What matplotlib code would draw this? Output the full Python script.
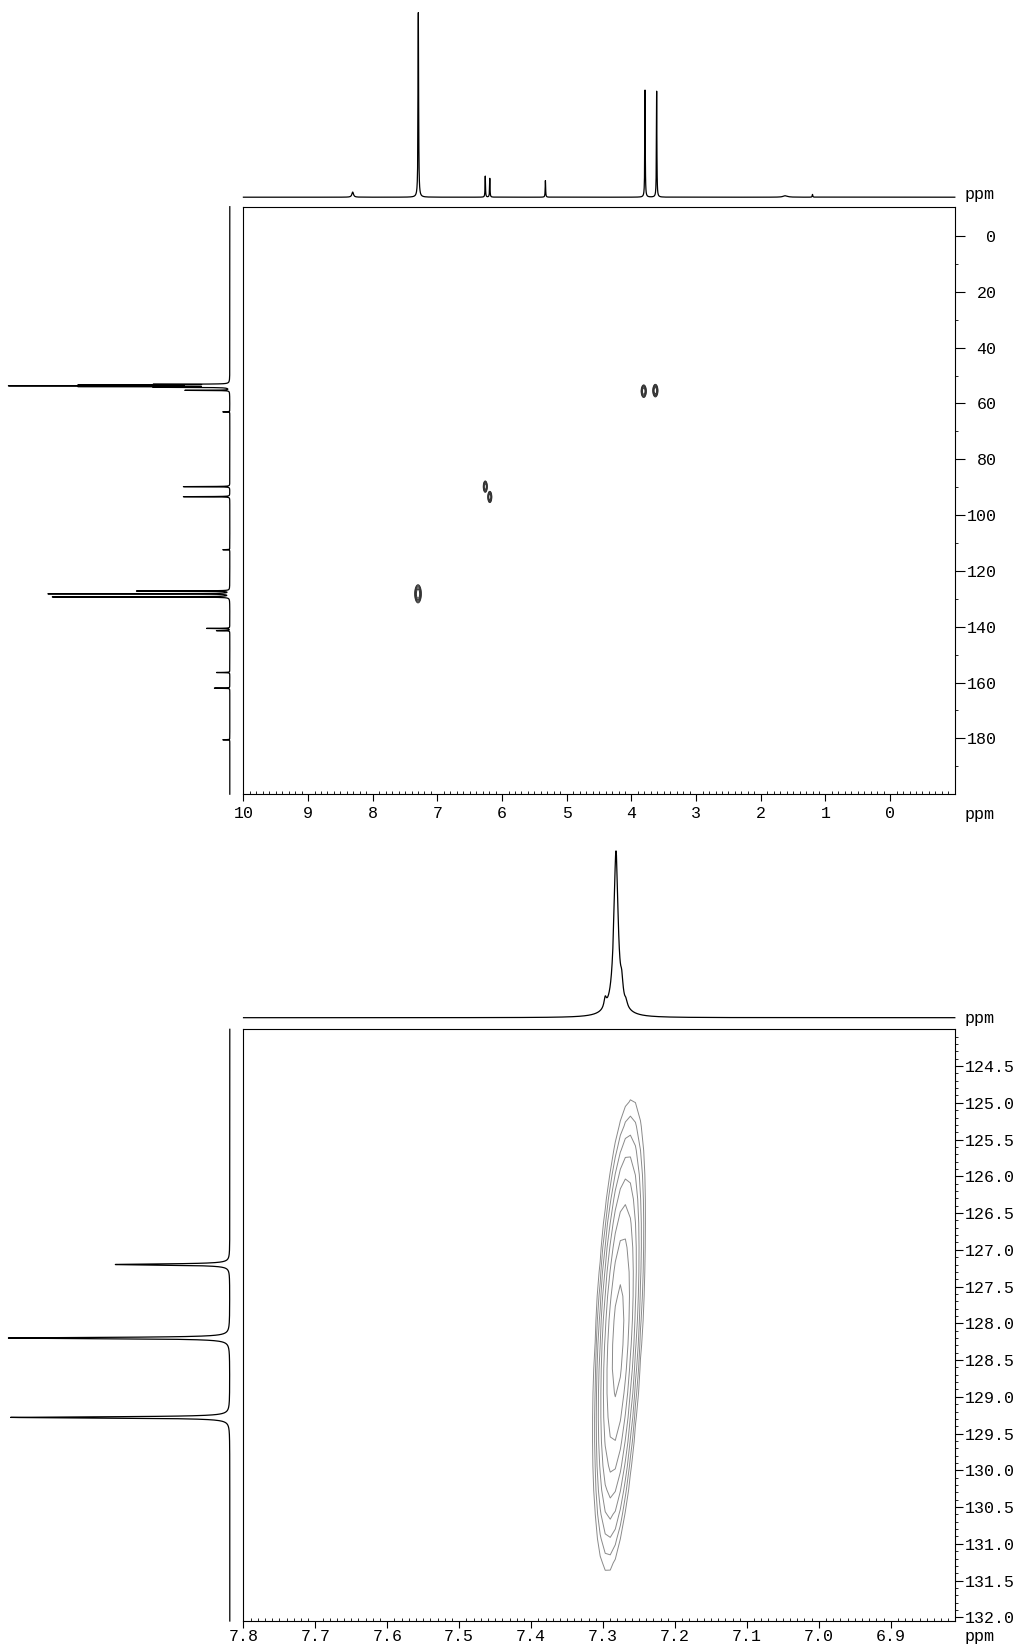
import numpy as np
import matplotlib
matplotlib.use("Agg")
import matplotlib.pyplot as plt
from matplotlib.ticker import FixedLocator

plt.rcParams['font.family'] = ['Liberation Mono', 'DejaVu Sans Mono']

W, H, DPI = 1023, 1646, 100

# ---------------- data ----------------
# Overview 1H projection (F2): position (ppm), relative height, line width (ppm)
h1_ppm    = [8.31, 7.295, 6.26, 6.19, 5.33, 3.79, 3.61, 1.62, 1.20]
h1_height = [0.028, 1.00, 0.114, 0.102, 0.090, 0.580, 0.574, 0.008, 0.015]
h1_width  = [0.030, 0.010, 0.008, 0.008, 0.008, 0.008, 0.008, 0.080, 0.010]

# Overview 13C projection (F1)
c13_ppm    = [53.13, 53.40, 53.67, 53.94, 54.21, 55.30, 63.0, 89.8, 93.4, 112.4,
              127.2, 128.2, 129.3, 140.6, 141.4, 156.4, 162.0, 180.5]
c13_height = [0.33, 0.67, 1.00, 0.67, 0.33, 0.21, 0.033, 0.22, 0.22, 0.033,
              0.44, 0.86, 0.84, 0.11, 0.063, 0.063, 0.073, 0.033]
c13_width  = [0.10] * 18

# Overview cross peaks (1H, 13C) with widths
xp_h1       = [3.81, 3.63, 6.26, 6.19, 7.30]
xp_c13      = [55.6, 55.4, 89.8, 93.5, 128.2]
xp_h1_sig   = [0.018, 0.018, 0.014, 0.014, 0.023]
xp_c13_sig  = [1.00, 1.00, 0.90, 0.90, 1.45]
xp_amp      = [1.0, 1.0, 1.0, 1.0, 1.0]

# Expansion 1H projection
zh_ppm    = [7.282, 7.297, 7.274, 7.268, 7.282]
zh_height = [1.00, 0.06, 0.10, 0.03, 0.05]
zh_width  = [0.007, 0.004, 0.004, 0.004, 0.030]

# Expansion 13C projection
zc_ppm    = [127.20, 128.20, 129.28]
zc_height = [0.517, 1.00, 0.99]
zc_width  = [0.02, 0.02, 0.02]

# Expansion cross peak: main component + weak shoulder (1H, 13C, amplitude)
zxp_h1    = [7.281, 7.264]
zxp_c13   = [128.35, 127.20]
zxp_amp   = [1.00, 0.20]
zxp_h1_sig, zxp_c13_sig, zxp_tilt = 0.0138, 1.37, 0.0043

# axis ranges
top_x = (10.0, -1.0)
top_y = (200.0, -10.5)
bot_x = (7.8, 6.811)
bot_y = (132.05, 124.0)


def lorentz(x, pos, hei, wid):
    y = np.zeros_like(x)
    for p, h, w in zip(pos, hei, wid):
        y += h / (1.0 + ((x - p) / (w / 2.0)) ** 2)
    return y


def normed(y):
    return y / y.max()


fig = plt.figure(figsize=(W / DPI, H / DPI), dpi=DPI)


def ax_px(left, top, right, bottom):
    return fig.add_axes([left / W, 1 - bottom / H, (right - left) / W, (bottom - top) / H])


TXT = dict(fontsize=12, color='black')


def style_main(ax, xmaj, xmin, ymaj, ymin, ylab_right_align, xpad):
    for s in ax.spines.values():
        s.set_linewidth(0.8)
    ax.xaxis.set_major_locator(FixedLocator(xmaj))
    ax.xaxis.set_minor_locator(FixedLocator(xmin))
    ax.yaxis.set_major_locator(FixedLocator(ymaj))
    ax.yaxis.set_minor_locator(FixedLocator(ymin))
    ax.yaxis.tick_right()
    ax.tick_params(axis='x', which='major', direction='out', length=5, width=0.8,
                   pad=xpad, labelsize=12)
    ax.tick_params(axis='x', which='minor', direction='in', length=2, width=0.6)
    if ylab_right_align:
        ax.tick_params(axis='y', which='major', direction='out', length=7, width=0.8,
                       pad=23, labelsize=12)
    else:
        ax.tick_params(axis='y', which='major', direction='out', length=6, width=0.8,
                       pad=1.5, labelsize=12)
    ax.tick_params(axis='y', which='minor', direction='out', length=2.5, width=0.6)


# ================= TOP PANEL =================
L, R = 243.4, 954.8
ax1 = ax_px(L, 206.7, R, 794.2)
ax1.set_xlim(*top_x)
ax1.set_ylim(*top_y)
style_main(ax1, list(range(0, 11)), np.round(np.arange(-0.9, 10.0, 0.1), 2),
           list(range(0, 181, 20)), list(range(10, 200, 20)), True, 3.5)
ax1.set_xticklabels([str(v) for v in range(0, 11)])
ax1.set_yticklabels([str(v) for v in range(0, 181, 20)])
for lbl in ax1.get_yticklabels():
    lbl.set_horizontalalignment('right')

gx = np.arange(-1.0, 10.0, 0.004)
gy = np.arange(-10.5, 200.0, 0.4)
GX, GY = np.meshgrid(gx, gy)
Z = np.zeros_like(GX)
for h, c, sx, sy, a in zip(xp_h1, xp_c13, xp_h1_sig, xp_c13_sig, xp_amp):
    Z += a * np.exp(-0.5 * (((GX - h) / sx) ** 2 + ((GY - c) / sy) ** 2))
ax1.contour(GX, GY, Z, levels=[0.083 * 1.6 ** k for k in range(5)],
            colors='#333333', linewidths=0.7)

# top projection
axt = ax_px(L, 5, R, 197.2)
xs = np.arange(-1.0, 10.0, 0.0005)
axt.plot(xs, normed(lorentz(xs, h1_ppm, h1_height, h1_width)), color='black', lw=0.9,
         clip_on=False)
axt.set_xlim(*top_x)
axt.set_ylim(0, 192.2 / 184.6)
axt.axis('off')
fig.text(965 / W, 1 - 195 / H, 'ppm', ha='left', va='center', **TXT)

# left projection
axl = ax_px(2, 206.7, 229.8, 794.2)
ys = np.arange(-10.5, 200.0, 0.01)
axl.plot(normed(lorentz(ys, c13_ppm, c13_height, c13_width)), ys, color='black', lw=0.9,
         clip_on=False)
axl.set_ylim(*top_y)
axl.set_xlim(227.8 / 221.4, 0)
axl.axis('off')
fig.text(965 / W, 1 - 814 / H, 'ppm', ha='left', va='center', **TXT)

# ================= BOTTOM PANEL =================
BT, BB = 1029.3, 1621.0
ax2 = ax_px(L, BT, R, BB)
ax2.set_xlim(*bot_x)
ax2.set_ylim(*bot_y)
xmaj = [round(v, 1) for v in np.arange(6.9, 7.81, 0.1)]
ymaj = [round(v, 1) for v in np.arange(124.5, 132.01, 0.5)]
style_main(ax2, xmaj, np.round(np.arange(6.82, 7.80, 0.01), 3),
           ymaj, np.round(np.arange(124.1, 132.0, 0.1), 2), False, 0.5)
ax2.set_xticklabels([f"{v:.1f}" for v in xmaj])
ax2.set_yticklabels([f"{v:.1f}" for v in ymaj])

bx = np.arange(6.80, 7.81, 0.007)
by = np.arange(124.0, 132.1, 0.33)
BX, BY = np.meshgrid(bx, by)
BZ = np.zeros_like(BX)
for h, c, a in zip(zxp_h1, zxp_c13, zxp_amp):
    cx = h + zxp_tilt * (BY - c)
    BZ += a * np.exp(-0.5 * (((BX - cx) / zxp_h1_sig) ** 2 + ((BY - c) / zxp_c13_sig) ** 2))
BZ /= BZ.max()
ax2.contour(BX, BY, BZ, levels=[0.084 * 1.4 ** k for k in range(8)],
            colors='#8a8a8a', linewidths=0.7)

axt2 = ax_px(L, 840, R, 1017.7)
xs2 = np.arange(6.811, 7.8, 0.0002)
axt2.plot(xs2, normed(lorentz(xs2, zh_ppm, zh_height, zh_width)), color='black', lw=0.9,
          clip_on=False)
axt2.set_xlim(*bot_x)
axt2.set_ylim(0, 177.7 / 166.8)
axt2.axis('off')
fig.text(965 / W, 1 - 1018 / H, 'ppm', ha='left', va='center', **TXT)

span = bot_y[0] - bot_y[1]
axl2 = ax_px(2, 1031, 229.8, BB)
ys2 = np.arange(124.0, bot_y[0], 0.002)
axl2.plot(normed(lorentz(ys2, zc_ppm, zc_height, zc_width)), ys2, color='black', lw=0.9,
          clip_on=False)
axl2.set_ylim(bot_y[0], bot_y[1] + (1031 - BT) / (BB - BT) * span)
axl2.set_xlim(227.8 / 221.4, 0)
axl2.axis('off')
fig.text(965 / W, 1 - 1636 / H, 'ppm', ha='left', va='center', **TXT)

fig.savefig('out.png', dpi=DPI)
